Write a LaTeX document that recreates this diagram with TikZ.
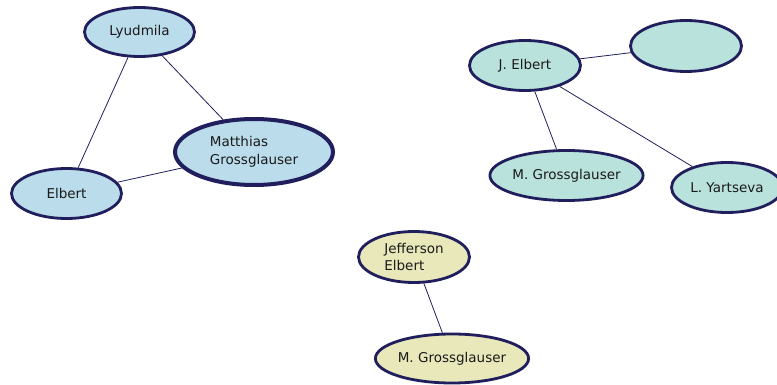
\documentclass[tikz,border=0pt]{standalone}
\usepackage{fontspec}
\setmainfont{DejaVu Sans}
\usetikzlibrary{shapes.geometric}
\definecolor{rim}{RGB}{32,30,92}
\definecolor{fillblue}{RGB}{186,220,235}
\definecolor{fillteal}{RGB}{186,226,221}
\definecolor{fillyellow}{RGB}{232,232,187}
\definecolor{ink}{RGB}{26,26,26}
\begin{document}
\begin{tikzpicture}[x=1pt,y=-1pt,
  person/.style={ellipse, draw=rim, line width=2.8pt, inner sep=0pt,
    font=\fontsize{13.5}{17.5}\selectfont, text=ink, align=left},
  hub/.style={person, line width=4pt},
  blue/.style={fill=fillblue},
  teal/.style={fill=fillteal},
  yellow/.style={fill=fillyellow},
  link/.style={draw=rim, line width=0.8pt}]
\useasboundingbox (0,0) rectangle (777,385);

% first group
\node[person, blue, minimum width=110pt, minimum height=49pt] (lyud) at (139.5,32) {Lyudmila};
\node[hub, blue, minimum width=158pt, minimum height=66pt] (matt) at (254,152) {Matthias\\Grossglauser};
\node[person, blue, minimum width=110pt, minimum height=50pt] (elb) at (66.5,193.5) {Elbert};
\draw[link] (lyud) -- (elb);
\draw[link] (lyud) -- (matt);
\draw[link] (elb) -- (matt);

% second group
\node[person, teal, minimum width=111pt, minimum height=50pt] (jelb) at (525,65.5) {J. Elbert};
\node[person, teal, minimum width=111pt, minimum height=51pt] (blank) at (686,46) {};
\node[person, teal, minimum width=150pt, minimum height=50pt] (mgro) at (566.5,175.5) {M. Grossglauser};
\node[person, teal, minimum width=111pt, minimum height=50pt] (yart) at (727,187.5) {L. Yartseva};
\draw[link] (jelb) -- (blank);
\draw[link] (jelb) -- (mgro);
\draw[link] (jelb) -- (yart);

% third group
\node[person, yellow, minimum width=111pt, minimum height=51pt] (jeff) at (414,257) {Jefferson\\Elbert};
\node[person, yellow, minimum width=149pt, minimum height=49pt] (mgro2) at (452,358.5) {M. Grossglauser};
\draw[link] (jeff) -- (mgro2);
\end{tikzpicture}
\end{document}
